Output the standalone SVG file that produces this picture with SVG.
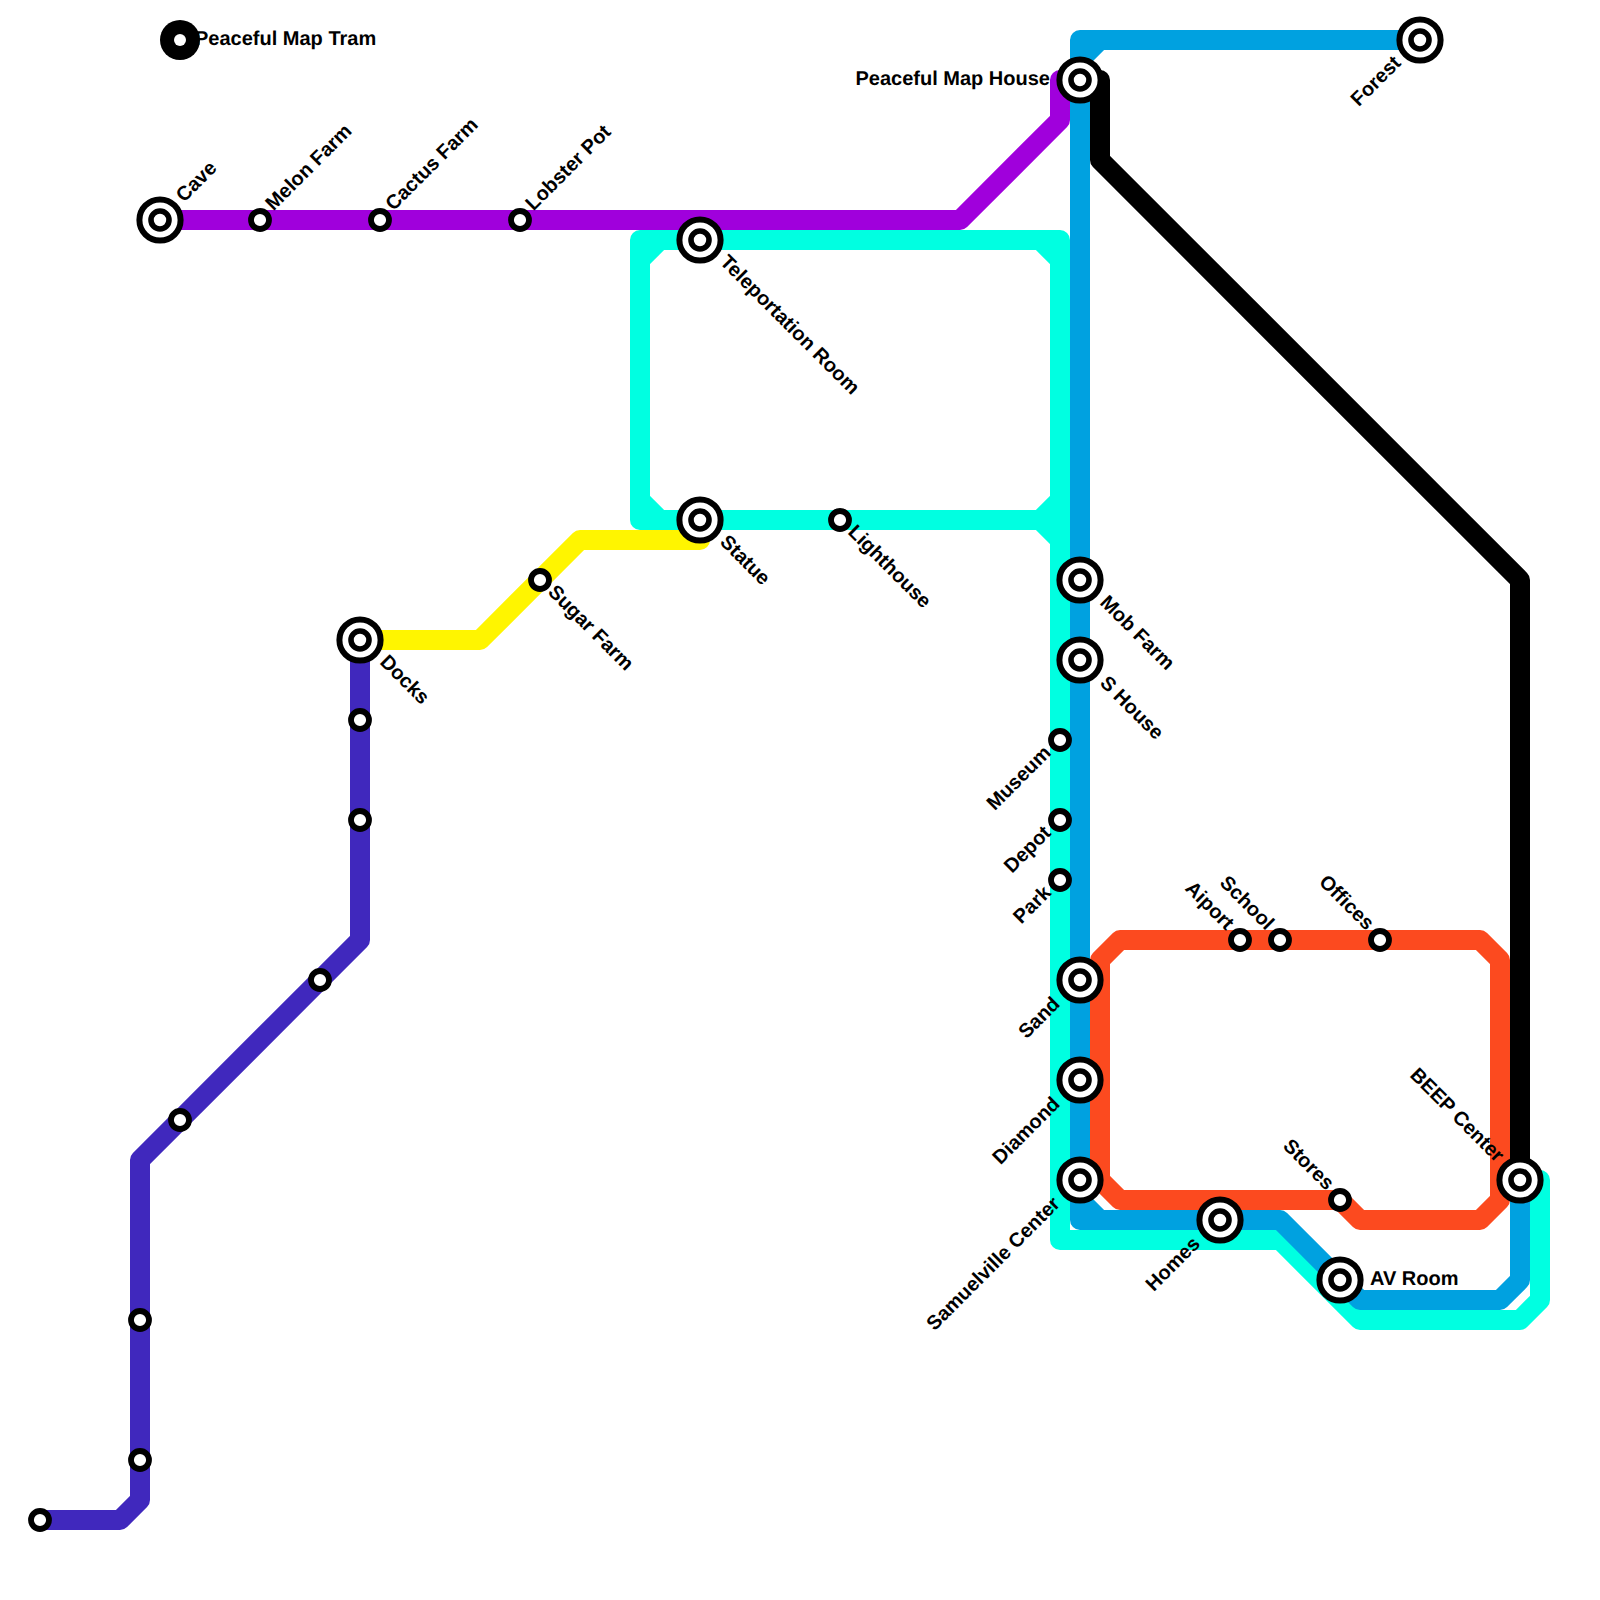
<svg xmlns="http://www.w3.org/2000/svg" width="1600" height="1600" viewBox="0 0 1600 1600">
<defs>
<style>
.l{fill:none;stroke-width:20;stroke-linecap:round;stroke-linejoin:round}
.cy{stroke:#00ffe1}.bl{stroke:#00a1e0}.or{stroke:#fc4a1f}.bk{stroke:#000}.pu{stroke:#a000dc}.in{stroke:#4028bd}.ye{stroke:#fff500}
text{font-family:"Liberation Sans",Arial,sans-serif;font-weight:700;font-size:20px;fill:#000;text-rendering:geometricPrecision}
.e{text-anchor:end}
</style>
<g id="big"><circle r="20.6" fill="#fff" stroke="#000" stroke-width="6"/><circle r="9" fill="#fff" stroke="#000" stroke-width="5.6"/></g>
<circle id="small" r="9" fill="#fff" stroke="#000" stroke-width="5.8"/>
</defs>
<rect width="1600" height="1600" fill="#fff"/>
<g id="connectors">
<path class="l ye" d="M360 640H480L580 540H700V520"/>
<path class="l pu" d="M160 220H960L1060 120V80"/>
<path class="l cy" d="M700 240H1060V1240H1280L1360 1320H1520L1540 1300V1180M700 240H640V520H1060M640 260L660 240M1040 240L1060 260M640 500L660 520M1040 520L1060 500M1040 520L1060 540"/>
<path class="l bl" d="M1420 40H1080V1220H1280L1360 1300H1500L1520 1280V1180M1080 60L1100 40M1080 1200L1100 1220"/>
<path class="l or" d="M1120 940H1480L1500 960V1200L1480 1220H1360L1340 1200H1120L1100 1180V960Z"/>
<path class="l bk" d="M1100 80V160L1520 580V1180"/>
<path class="l in" d="M40 1520H120L140 1500V1160L360 940V640"/>
</g>
<g id="legend"><circle cx="180" cy="40" r="20" fill="#000"/><circle cx="180" cy="40" r="6" fill="#fff"/><text x="195" y="45">Peaceful Map Tram</text></g>
<g id="n-cave"><use href="#big" x="160" y="220"/><text transform="translate(184 203) rotate(-45)">Cave</text></g>
<g id="n-melon"><use href="#small" x="260" y="220"/><text transform="translate(273.5 211.5) rotate(-45)">Melon Farm</text></g>
<g id="n-cactus"><use href="#small" x="380" y="220"/><text transform="translate(393.5 211.5) rotate(-45)">Cactus Farm</text></g>
<g id="n-lobster"><use href="#small" x="520" y="220"/><text transform="translate(533.5 211.5) rotate(-45)">Lobster Pot</text></g>
<g id="n-tele"><use href="#big" x="700" y="240"/><text transform="translate(719 263) rotate(45)">Teleportation Room</text></g>
<g id="n-statue"><use href="#big" x="700" y="520"/><text transform="translate(719 543) rotate(45)">Statue</text></g>
<g id="n-light"><use href="#small" x="840" y="520"/><text transform="translate(847 533) rotate(45)">Lighthouse</text></g>
<g id="n-sugar"><use href="#small" x="540" y="580"/><text transform="translate(547 593) rotate(45)">Sugar Farm</text></g>
<g id="n-docks"><use href="#big" x="360" y="640"/><text transform="translate(379 663) rotate(45)">Docks</text></g>
<g id="n-i1"><use href="#small" x="360" y="720"/></g>
<g id="n-i2"><use href="#small" x="360" y="820"/></g>
<g id="n-i3"><use href="#small" x="320" y="980"/></g>
<g id="n-i4"><use href="#small" x="180" y="1120"/></g>
<g id="n-i5"><use href="#small" x="140" y="1320"/></g>
<g id="n-i6"><use href="#small" x="140" y="1460"/></g>
<g id="n-i7"><use href="#small" x="40" y="1520"/></g>
<g id="n-house"><use href="#big" x="1080" y="80"/><text class="e" x="1050" y="85">Peaceful Map House</text></g>
<g id="n-forest"><use href="#big" x="1420" y="40"/><text class="e" transform="translate(1402 64) rotate(-45)">Forest</text></g>
<g id="n-mob"><use href="#big" x="1080" y="580"/><text transform="translate(1099 603.500) rotate(45)">Mob Farm</text></g>
<g id="n-shouse"><use href="#big" x="1080" y="660"/><text transform="translate(1099 684) rotate(45)">S House</text></g>
<g id="n-museum"><use href="#small" x="1060" y="740"/><text class="e" transform="translate(1052 754) rotate(-45)">Museum</text></g>
<g id="n-depot"><use href="#small" x="1060" y="820"/><text class="e" transform="translate(1052 834) rotate(-45)">Depot</text></g>
<g id="n-park"><use href="#small" x="1060" y="880"/><text class="e" transform="translate(1052 894) rotate(-45)">Park</text></g>
<g id="n-sand"><use href="#big" x="1080" y="980"/><text class="e" transform="translate(1061 1005) rotate(-45)">Sand</text></g>
<g id="n-diamond"><use href="#big" x="1080" y="1080"/><text class="e" transform="translate(1061 1105) rotate(-45)">Diamond</text></g>
<g id="n-samuel"><use href="#big" x="1080" y="1180"/><text class="e" transform="translate(1061 1205) rotate(-45)">Samuelville Center</text></g>
<g id="n-homes"><use href="#big" x="1220" y="1220"/><text class="e" transform="translate(1201 1245) rotate(-45)">Homes</text></g>
<g id="n-av"><use href="#big" x="1340" y="1280"/><text x="1370" y="1285">AV Room</text></g>
<g id="n-stores"><use href="#small" x="1340" y="1200"/><text class="e" transform="translate(1326 1191) rotate(45)">Stores</text></g>
<g id="n-aiport"><use href="#small" x="1240" y="940"/><text class="e" transform="translate(1226 931) rotate(45)">Aiport</text></g>
<g id="n-school"><use href="#small" x="1280" y="940"/><text class="e" transform="translate(1266 931) rotate(45)">School</text></g>
<g id="n-offices"><use href="#small" x="1380" y="940"/><text class="e" transform="translate(1366 931) rotate(45)">Offices</text></g>
<g id="n-beep"><use href="#big" x="1520" y="1180"/><text class="e" transform="translate(1496 1163) rotate(45)">BEEP Center</text></g>
</svg>
